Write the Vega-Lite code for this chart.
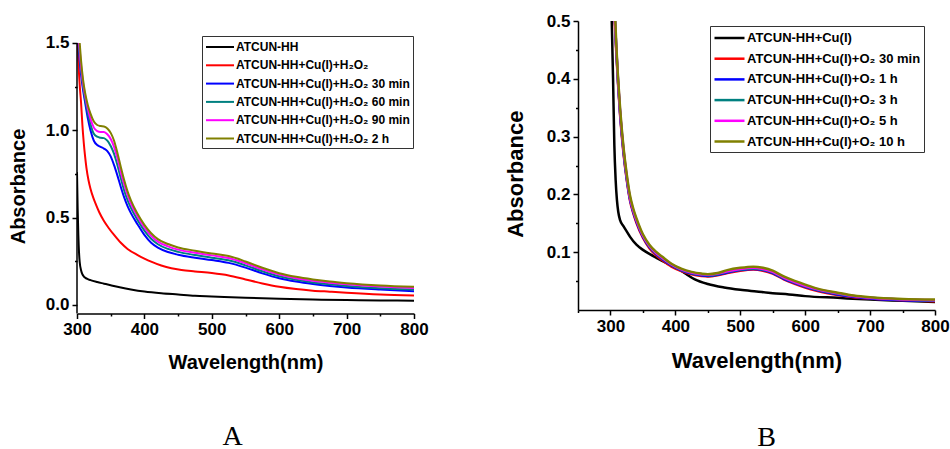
{
"$schema": "https://vega.github.io/schema/vega-lite/v6.json",
"background": "white",
"padding": {"left": 8, "top": 12, "right": 0, "bottom": 0},
"datasets": {
"a": [
{"s":"ATCUN-HH","w":300,"a":0.76},{"s":"ATCUN-HH","w":301,"a":0.55},{"s":"ATCUN-HH","w":302,"a":0.40},{"s":"ATCUN-HH","w":303,"a":0.30},{"s":"ATCUN-HH","w":304,"a":0.245},{"s":"ATCUN-HH","w":306,"a":0.198},{"s":"ATCUN-HH","w":308,"a":0.175},{"s":"ATCUN-HH","w":310,"a":0.163},{"s":"ATCUN-HH","w":313,"a":0.153},{"s":"ATCUN-HH","w":316,"a":0.147},{"s":"ATCUN-HH","w":320,"a":0.141},{"s":"ATCUN-HH","w":330,"a":0.130},{"s":"ATCUN-HH","w":340,"a":0.121},{"s":"ATCUN-HH","w":350,"a":0.112},{"s":"ATCUN-HH","w":365,"a":0.099},{"s":"ATCUN-HH","w":380,"a":0.088},{"s":"ATCUN-HH","w":400,"a":0.076},{"s":"ATCUN-HH","w":425,"a":0.066},{"s":"ATCUN-HH","w":450,"a":0.059},{"s":"ATCUN-HH","w":475,"a":0.052},{"s":"ATCUN-HH","w":500,"a":0.048},{"s":"ATCUN-HH","w":550,"a":0.040},{"s":"ATCUN-HH","w":600,"a":0.034},{"s":"ATCUN-HH","w":650,"a":0.030},{"s":"ATCUN-HH","w":700,"a":0.027},{"s":"ATCUN-HH","w":750,"a":0.025},{"s":"ATCUN-HH","w":800,"a":0.023},
{"s":"ATCUN-HH+Cu(I)+H\u2082O\u2082","w":301,"a":1.50},{"s":"ATCUN-HH+Cu(I)+H\u2082O\u2082","w":302,"a":1.40},{"s":"ATCUN-HH+Cu(I)+H\u2082O\u2082","w":304,"a":1.26},{"s":"ATCUN-HH+Cu(I)+H\u2082O\u2082","w":306,"a":1.16},{"s":"ATCUN-HH+Cu(I)+H\u2082O\u2082","w":308,"a":1.03},{"s":"ATCUN-HH+Cu(I)+H\u2082O\u2082","w":310,"a":0.93},{"s":"ATCUN-HH+Cu(I)+H\u2082O\u2082","w":312,"a":0.85},{"s":"ATCUN-HH+Cu(I)+H\u2082O\u2082","w":314,"a":0.785},{"s":"ATCUN-HH+Cu(I)+H\u2082O\u2082","w":317,"a":0.715},{"s":"ATCUN-HH+Cu(I)+H\u2082O\u2082","w":320,"a":0.665},{"s":"ATCUN-HH+Cu(I)+H\u2082O\u2082","w":324,"a":0.615},{"s":"ATCUN-HH+Cu(I)+H\u2082O\u2082","w":328,"a":0.575},{"s":"ATCUN-HH+Cu(I)+H\u2082O\u2082","w":333,"a":0.53},{"s":"ATCUN-HH+Cu(I)+H\u2082O\u2082","w":340,"a":0.48},{"s":"ATCUN-HH+Cu(I)+H\u2082O\u2082","w":347,"a":0.44},{"s":"ATCUN-HH+Cu(I)+H\u2082O\u2082","w":355,"a":0.40},{"s":"ATCUN-HH+Cu(I)+H\u2082O\u2082","w":365,"a":0.355},{"s":"ATCUN-HH+Cu(I)+H\u2082O\u2082","w":375,"a":0.32},{"s":"ATCUN-HH+Cu(I)+H\u2082O\u2082","w":390,"a":0.285},{"s":"ATCUN-HH+Cu(I)+H\u2082O\u2082","w":400,"a":0.265},{"s":"ATCUN-HH+Cu(I)+H\u2082O\u2082","w":410,"a":0.247},{"s":"ATCUN-HH+Cu(I)+H\u2082O\u2082","w":425,"a":0.225},{"s":"ATCUN-HH+Cu(I)+H\u2082O\u2082","w":440,"a":0.209},{"s":"ATCUN-HH+Cu(I)+H\u2082O\u2082","w":455,"a":0.199},{"s":"ATCUN-HH+Cu(I)+H\u2082O\u2082","w":475,"a":0.191},{"s":"ATCUN-HH+Cu(I)+H\u2082O\u2082","w":500,"a":0.182},{"s":"ATCUN-HH+Cu(I)+H\u2082O\u2082","w":525,"a":0.168},{"s":"ATCUN-HH+Cu(I)+H\u2082O\u2082","w":550,"a":0.145},{"s":"ATCUN-HH+Cu(I)+H\u2082O\u2082","w":575,"a":0.122},{"s":"ATCUN-HH+Cu(I)+H\u2082O\u2082","w":600,"a":0.103},{"s":"ATCUN-HH+Cu(I)+H\u2082O\u2082","w":625,"a":0.090},{"s":"ATCUN-HH+Cu(I)+H\u2082O\u2082","w":650,"a":0.081},{"s":"ATCUN-HH+Cu(I)+H\u2082O\u2082","w":675,"a":0.075},{"s":"ATCUN-HH+Cu(I)+H\u2082O\u2082","w":700,"a":0.069},{"s":"ATCUN-HH+Cu(I)+H\u2082O\u2082","w":750,"a":0.059},{"s":"ATCUN-HH+Cu(I)+H\u2082O\u2082","w":800,"a":0.053},
{"s":"ATCUN-HH+Cu(I)+H\u2082O\u2082 30 min","w":302,"a":1.50},{"s":"ATCUN-HH+Cu(I)+H\u2082O\u2082 30 min","w":304,"a":1.40},{"s":"ATCUN-HH+Cu(I)+H\u2082O\u2082 30 min","w":306,"a":1.32},{"s":"ATCUN-HH+Cu(I)+H\u2082O\u2082 30 min","w":309,"a":1.23},{"s":"ATCUN-HH+Cu(I)+H\u2082O\u2082 30 min","w":312,"a":1.16},{"s":"ATCUN-HH+Cu(I)+H\u2082O\u2082 30 min","w":316,"a":1.07},{"s":"ATCUN-HH+Cu(I)+H\u2082O\u2082 30 min","w":320,"a":1.00},{"s":"ATCUN-HH+Cu(I)+H\u2082O\u2082 30 min","w":325,"a":0.94},{"s":"ATCUN-HH+Cu(I)+H\u2082O\u2082 30 min","w":330,"a":0.915},{"s":"ATCUN-HH+Cu(I)+H\u2082O\u2082 30 min","w":335,"a":0.905},{"s":"ATCUN-HH+Cu(I)+H\u2082O\u2082 30 min","w":340,"a":0.895},{"s":"ATCUN-HH+Cu(I)+H\u2082O\u2082 30 min","w":345,"a":0.88},{"s":"ATCUN-HH+Cu(I)+H\u2082O\u2082 30 min","w":350,"a":0.85},{"s":"ATCUN-HH+Cu(I)+H\u2082O\u2082 30 min","w":355,"a":0.80},{"s":"ATCUN-HH+Cu(I)+H\u2082O\u2082 30 min","w":360,"a":0.74},{"s":"ATCUN-HH+Cu(I)+H\u2082O\u2082 30 min","w":365,"a":0.675},{"s":"ATCUN-HH+Cu(I)+H\u2082O\u2082 30 min","w":370,"a":0.615},{"s":"ATCUN-HH+Cu(I)+H\u2082O\u2082 30 min","w":375,"a":0.565},{"s":"ATCUN-HH+Cu(I)+H\u2082O\u2082 30 min","w":380,"a":0.525},{"s":"ATCUN-HH+Cu(I)+H\u2082O\u2082 30 min","w":390,"a":0.46},{"s":"ATCUN-HH+Cu(I)+H\u2082O\u2082 30 min","w":400,"a":0.40},{"s":"ATCUN-HH+Cu(I)+H\u2082O\u2082 30 min","w":410,"a":0.355},{"s":"ATCUN-HH+Cu(I)+H\u2082O\u2082 30 min","w":420,"a":0.327},{"s":"ATCUN-HH+Cu(I)+H\u2082O\u2082 30 min","w":435,"a":0.302},{"s":"ATCUN-HH+Cu(I)+H\u2082O\u2082 30 min","w":450,"a":0.287},{"s":"ATCUN-HH+Cu(I)+H\u2082O\u2082 30 min","w":475,"a":0.27},{"s":"ATCUN-HH+Cu(I)+H\u2082O\u2082 30 min","w":500,"a":0.256},{"s":"ATCUN-HH+Cu(I)+H\u2082O\u2082 30 min","w":525,"a":0.24},{"s":"ATCUN-HH+Cu(I)+H\u2082O\u2082 30 min","w":550,"a":0.213},{"s":"ATCUN-HH+Cu(I)+H\u2082O\u2082 30 min","w":575,"a":0.18},{"s":"ATCUN-HH+Cu(I)+H\u2082O\u2082 30 min","w":600,"a":0.152},{"s":"ATCUN-HH+Cu(I)+H\u2082O\u2082 30 min","w":625,"a":0.133},{"s":"ATCUN-HH+Cu(I)+H\u2082O\u2082 30 min","w":650,"a":0.119},{"s":"ATCUN-HH+Cu(I)+H\u2082O\u2082 30 min","w":675,"a":0.108},{"s":"ATCUN-HH+Cu(I)+H\u2082O\u2082 30 min","w":700,"a":0.099},{"s":"ATCUN-HH+Cu(I)+H\u2082O\u2082 30 min","w":750,"a":0.087},{"s":"ATCUN-HH+Cu(I)+H\u2082O\u2082 30 min","w":800,"a":0.078},
{"s":"ATCUN-HH+Cu(I)+H\u2082O\u2082 60 min","w":302.5,"a":1.50},{"s":"ATCUN-HH+Cu(I)+H\u2082O\u2082 60 min","w":304,"a":1.43},{"s":"ATCUN-HH+Cu(I)+H\u2082O\u2082 60 min","w":306,"a":1.35},{"s":"ATCUN-HH+Cu(I)+H\u2082O\u2082 60 min","w":309,"a":1.25},{"s":"ATCUN-HH+Cu(I)+H\u2082O\u2082 60 min","w":312,"a":1.18},{"s":"ATCUN-HH+Cu(I)+H\u2082O\u2082 60 min","w":316,"a":1.10},{"s":"ATCUN-HH+Cu(I)+H\u2082O\u2082 60 min","w":320,"a":1.035},{"s":"ATCUN-HH+Cu(I)+H\u2082O\u2082 60 min","w":325,"a":0.98},{"s":"ATCUN-HH+Cu(I)+H\u2082O\u2082 60 min","w":330,"a":0.963},{"s":"ATCUN-HH+Cu(I)+H\u2082O\u2082 60 min","w":335,"a":0.957},{"s":"ATCUN-HH+Cu(I)+H\u2082O\u2082 60 min","w":340,"a":0.955},{"s":"ATCUN-HH+Cu(I)+H\u2082O\u2082 60 min","w":345,"a":0.94},{"s":"ATCUN-HH+Cu(I)+H\u2082O\u2082 60 min","w":350,"a":0.91},{"s":"ATCUN-HH+Cu(I)+H\u2082O\u2082 60 min","w":355,"a":0.865},{"s":"ATCUN-HH+Cu(I)+H\u2082O\u2082 60 min","w":360,"a":0.80},{"s":"ATCUN-HH+Cu(I)+H\u2082O\u2082 60 min","w":365,"a":0.725},{"s":"ATCUN-HH+Cu(I)+H\u2082O\u2082 60 min","w":370,"a":0.655},{"s":"ATCUN-HH+Cu(I)+H\u2082O\u2082 60 min","w":375,"a":0.60},{"s":"ATCUN-HH+Cu(I)+H\u2082O\u2082 60 min","w":380,"a":0.555},{"s":"ATCUN-HH+Cu(I)+H\u2082O\u2082 60 min","w":390,"a":0.485},{"s":"ATCUN-HH+Cu(I)+H\u2082O\u2082 60 min","w":400,"a":0.425},{"s":"ATCUN-HH+Cu(I)+H\u2082O\u2082 60 min","w":410,"a":0.378},{"s":"ATCUN-HH+Cu(I)+H\u2082O\u2082 60 min","w":420,"a":0.347},{"s":"ATCUN-HH+Cu(I)+H\u2082O\u2082 60 min","w":435,"a":0.32},{"s":"ATCUN-HH+Cu(I)+H\u2082O\u2082 60 min","w":450,"a":0.303},{"s":"ATCUN-HH+Cu(I)+H\u2082O\u2082 60 min","w":475,"a":0.285},{"s":"ATCUN-HH+Cu(I)+H\u2082O\u2082 60 min","w":500,"a":0.27},{"s":"ATCUN-HH+Cu(I)+H\u2082O\u2082 60 min","w":525,"a":0.255},{"s":"ATCUN-HH+Cu(I)+H\u2082O\u2082 60 min","w":550,"a":0.226},{"s":"ATCUN-HH+Cu(I)+H\u2082O\u2082 60 min","w":575,"a":0.192},{"s":"ATCUN-HH+Cu(I)+H\u2082O\u2082 60 min","w":600,"a":0.163},{"s":"ATCUN-HH+Cu(I)+H\u2082O\u2082 60 min","w":625,"a":0.143},{"s":"ATCUN-HH+Cu(I)+H\u2082O\u2082 60 min","w":650,"a":0.128},{"s":"ATCUN-HH+Cu(I)+H\u2082O\u2082 60 min","w":675,"a":0.117},{"s":"ATCUN-HH+Cu(I)+H\u2082O\u2082 60 min","w":700,"a":0.108},{"s":"ATCUN-HH+Cu(I)+H\u2082O\u2082 60 min","w":750,"a":0.095},{"s":"ATCUN-HH+Cu(I)+H\u2082O\u2082 60 min","w":800,"a":0.087},
{"s":"ATCUN-HH+Cu(I)+H\u2082O\u2082 90 min","w":303,"a":1.50},{"s":"ATCUN-HH+Cu(I)+H\u2082O\u2082 90 min","w":304,"a":1.46},{"s":"ATCUN-HH+Cu(I)+H\u2082O\u2082 90 min","w":306,"a":1.37},{"s":"ATCUN-HH+Cu(I)+H\u2082O\u2082 90 min","w":309,"a":1.27},{"s":"ATCUN-HH+Cu(I)+H\u2082O\u2082 90 min","w":312,"a":1.20},{"s":"ATCUN-HH+Cu(I)+H\u2082O\u2082 90 min","w":316,"a":1.125},{"s":"ATCUN-HH+Cu(I)+H\u2082O\u2082 90 min","w":320,"a":1.065},{"s":"ATCUN-HH+Cu(I)+H\u2082O\u2082 90 min","w":325,"a":1.015},{"s":"ATCUN-HH+Cu(I)+H\u2082O\u2082 90 min","w":330,"a":0.995},{"s":"ATCUN-HH+Cu(I)+H\u2082O\u2082 90 min","w":335,"a":0.99},{"s":"ATCUN-HH+Cu(I)+H\u2082O\u2082 90 min","w":340,"a":0.99},{"s":"ATCUN-HH+Cu(I)+H\u2082O\u2082 90 min","w":345,"a":0.977},{"s":"ATCUN-HH+Cu(I)+H\u2082O\u2082 90 min","w":350,"a":0.95},{"s":"ATCUN-HH+Cu(I)+H\u2082O\u2082 90 min","w":355,"a":0.905},{"s":"ATCUN-HH+Cu(I)+H\u2082O\u2082 90 min","w":360,"a":0.84},{"s":"ATCUN-HH+Cu(I)+H\u2082O\u2082 90 min","w":365,"a":0.76},{"s":"ATCUN-HH+Cu(I)+H\u2082O\u2082 90 min","w":370,"a":0.69},{"s":"ATCUN-HH+Cu(I)+H\u2082O\u2082 90 min","w":375,"a":0.63},{"s":"ATCUN-HH+Cu(I)+H\u2082O\u2082 90 min","w":380,"a":0.58},{"s":"ATCUN-HH+Cu(I)+H\u2082O\u2082 90 min","w":390,"a":0.505},{"s":"ATCUN-HH+Cu(I)+H\u2082O\u2082 90 min","w":400,"a":0.443},{"s":"ATCUN-HH+Cu(I)+H\u2082O\u2082 90 min","w":410,"a":0.395},{"s":"ATCUN-HH+Cu(I)+H\u2082O\u2082 90 min","w":420,"a":0.362},{"s":"ATCUN-HH+Cu(I)+H\u2082O\u2082 90 min","w":435,"a":0.335},{"s":"ATCUN-HH+Cu(I)+H\u2082O\u2082 90 min","w":450,"a":0.316},{"s":"ATCUN-HH+Cu(I)+H\u2082O\u2082 90 min","w":475,"a":0.298},{"s":"ATCUN-HH+Cu(I)+H\u2082O\u2082 90 min","w":500,"a":0.283},{"s":"ATCUN-HH+Cu(I)+H\u2082O\u2082 90 min","w":525,"a":0.268},{"s":"ATCUN-HH+Cu(I)+H\u2082O\u2082 90 min","w":550,"a":0.238},{"s":"ATCUN-HH+Cu(I)+H\u2082O\u2082 90 min","w":575,"a":0.203},{"s":"ATCUN-HH+Cu(I)+H\u2082O\u2082 90 min","w":600,"a":0.173},{"s":"ATCUN-HH+Cu(I)+H\u2082O\u2082 90 min","w":625,"a":0.152},{"s":"ATCUN-HH+Cu(I)+H\u2082O\u2082 90 min","w":650,"a":0.137},{"s":"ATCUN-HH+Cu(I)+H\u2082O\u2082 90 min","w":675,"a":0.126},{"s":"ATCUN-HH+Cu(I)+H\u2082O\u2082 90 min","w":700,"a":0.117},{"s":"ATCUN-HH+Cu(I)+H\u2082O\u2082 90 min","w":750,"a":0.104},{"s":"ATCUN-HH+Cu(I)+H\u2082O\u2082 90 min","w":800,"a":0.096},
{"s":"ATCUN-HH+Cu(I)+H\u2082O\u2082 2 h","w":304,"a":1.50},{"s":"ATCUN-HH+Cu(I)+H\u2082O\u2082 2 h","w":306,"a":1.40},{"s":"ATCUN-HH+Cu(I)+H\u2082O\u2082 2 h","w":309,"a":1.29},{"s":"ATCUN-HH+Cu(I)+H\u2082O\u2082 2 h","w":312,"a":1.215},{"s":"ATCUN-HH+Cu(I)+H\u2082O\u2082 2 h","w":316,"a":1.145},{"s":"ATCUN-HH+Cu(I)+H\u2082O\u2082 2 h","w":320,"a":1.095},{"s":"ATCUN-HH+Cu(I)+H\u2082O\u2082 2 h","w":325,"a":1.05},{"s":"ATCUN-HH+Cu(I)+H\u2082O\u2082 2 h","w":330,"a":1.03},{"s":"ATCUN-HH+Cu(I)+H\u2082O\u2082 2 h","w":335,"a":1.024},{"s":"ATCUN-HH+Cu(I)+H\u2082O\u2082 2 h","w":340,"a":1.022},{"s":"ATCUN-HH+Cu(I)+H\u2082O\u2082 2 h","w":345,"a":1.01},{"s":"ATCUN-HH+Cu(I)+H\u2082O\u2082 2 h","w":350,"a":0.985},{"s":"ATCUN-HH+Cu(I)+H\u2082O\u2082 2 h","w":355,"a":0.94},{"s":"ATCUN-HH+Cu(I)+H\u2082O\u2082 2 h","w":360,"a":0.87},{"s":"ATCUN-HH+Cu(I)+H\u2082O\u2082 2 h","w":365,"a":0.79},{"s":"ATCUN-HH+Cu(I)+H\u2082O\u2082 2 h","w":370,"a":0.715},{"s":"ATCUN-HH+Cu(I)+H\u2082O\u2082 2 h","w":375,"a":0.65},{"s":"ATCUN-HH+Cu(I)+H\u2082O\u2082 2 h","w":380,"a":0.598},{"s":"ATCUN-HH+Cu(I)+H\u2082O\u2082 2 h","w":390,"a":0.52},{"s":"ATCUN-HH+Cu(I)+H\u2082O\u2082 2 h","w":400,"a":0.458},{"s":"ATCUN-HH+Cu(I)+H\u2082O\u2082 2 h","w":410,"a":0.41},{"s":"ATCUN-HH+Cu(I)+H\u2082O\u2082 2 h","w":420,"a":0.376},{"s":"ATCUN-HH+Cu(I)+H\u2082O\u2082 2 h","w":435,"a":0.348},{"s":"ATCUN-HH+Cu(I)+H\u2082O\u2082 2 h","w":450,"a":0.328},{"s":"ATCUN-HH+Cu(I)+H\u2082O\u2082 2 h","w":475,"a":0.31},{"s":"ATCUN-HH+Cu(I)+H\u2082O\u2082 2 h","w":500,"a":0.294},{"s":"ATCUN-HH+Cu(I)+H\u2082O\u2082 2 h","w":525,"a":0.279},{"s":"ATCUN-HH+Cu(I)+H\u2082O\u2082 2 h","w":550,"a":0.248},{"s":"ATCUN-HH+Cu(I)+H\u2082O\u2082 2 h","w":575,"a":0.212},{"s":"ATCUN-HH+Cu(I)+H\u2082O\u2082 2 h","w":600,"a":0.181},{"s":"ATCUN-HH+Cu(I)+H\u2082O\u2082 2 h","w":625,"a":0.16},{"s":"ATCUN-HH+Cu(I)+H\u2082O\u2082 2 h","w":650,"a":0.145},{"s":"ATCUN-HH+Cu(I)+H\u2082O\u2082 2 h","w":675,"a":0.133},{"s":"ATCUN-HH+Cu(I)+H\u2082O\u2082 2 h","w":700,"a":0.124},{"s":"ATCUN-HH+Cu(I)+H\u2082O\u2082 2 h","w":750,"a":0.111},{"s":"ATCUN-HH+Cu(I)+H\u2082O\u2082 2 h","w":800,"a":0.103}
],
"b": [
{"s":"ATCUN-HH+Cu(I)","w":302,"a":0.50},{"s":"ATCUN-HH+Cu(I)","w":304,"a":0.40},{"s":"ATCUN-HH+Cu(I)","w":306,"a":0.285},{"s":"ATCUN-HH+Cu(I)","w":308,"a":0.225},{"s":"ATCUN-HH+Cu(I)","w":310,"a":0.19},{"s":"ATCUN-HH+Cu(I)","w":312,"a":0.17},{"s":"ATCUN-HH+Cu(I)","w":315,"a":0.155},{"s":"ATCUN-HH+Cu(I)","w":320,"a":0.145},{"s":"ATCUN-HH+Cu(I)","w":325,"a":0.136},{"s":"ATCUN-HH+Cu(I)","w":330,"a":0.127},{"s":"ATCUN-HH+Cu(I)","w":340,"a":0.113},{"s":"ATCUN-HH+Cu(I)","w":350,"a":0.104},{"s":"ATCUN-HH+Cu(I)","w":360,"a":0.097},{"s":"ATCUN-HH+Cu(I)","w":373,"a":0.089},{"s":"ATCUN-HH+Cu(I)","w":385,"a":0.082},{"s":"ATCUN-HH+Cu(I)","w":400,"a":0.074},{"s":"ATCUN-HH+Cu(I)","w":414,"a":0.064},{"s":"ATCUN-HH+Cu(I)","w":430,"a":0.053},{"s":"ATCUN-HH+Cu(I)","w":450,"a":0.045},{"s":"ATCUN-HH+Cu(I)","w":475,"a":0.039},{"s":"ATCUN-HH+Cu(I)","w":500,"a":0.035},{"s":"ATCUN-HH+Cu(I)","w":525,"a":0.032},{"s":"ATCUN-HH+Cu(I)","w":550,"a":0.029},{"s":"ATCUN-HH+Cu(I)","w":575,"a":0.027},{"s":"ATCUN-HH+Cu(I)","w":600,"a":0.024},{"s":"ATCUN-HH+Cu(I)","w":650,"a":0.021},{"s":"ATCUN-HH+Cu(I)","w":700,"a":0.018},{"s":"ATCUN-HH+Cu(I)","w":750,"a":0.016},{"s":"ATCUN-HH+Cu(I)","w":800,"a":0.014},
{"s":"ATCUN-HH+Cu(I)+O\u2082 30 min","w":306.5,"a":0.50},{"s":"ATCUN-HH+Cu(I)+O\u2082 30 min","w":309,"a":0.445},{"s":"ATCUN-HH+Cu(I)+O\u2082 30 min","w":312,"a":0.385},{"s":"ATCUN-HH+Cu(I)+O\u2082 30 min","w":315,"a":0.335},{"s":"ATCUN-HH+Cu(I)+O\u2082 30 min","w":320,"a":0.272},{"s":"ATCUN-HH+Cu(I)+O\u2082 30 min","w":325,"a":0.226},{"s":"ATCUN-HH+Cu(I)+O\u2082 30 min","w":330,"a":0.19},{"s":"ATCUN-HH+Cu(I)+O\u2082 30 min","w":335,"a":0.168},{"s":"ATCUN-HH+Cu(I)+O\u2082 30 min","w":340,"a":0.151},{"s":"ATCUN-HH+Cu(I)+O\u2082 30 min","w":350,"a":0.125},{"s":"ATCUN-HH+Cu(I)+O\u2082 30 min","w":360,"a":0.107},{"s":"ATCUN-HH+Cu(I)+O\u2082 30 min","w":370,"a":0.095},{"s":"ATCUN-HH+Cu(I)+O\u2082 30 min","w":380,"a":0.086},{"s":"ATCUN-HH+Cu(I)+O\u2082 30 min","w":394,"a":0.075},{"s":"ATCUN-HH+Cu(I)+O\u2082 30 min","w":410,"a":0.067},{"s":"ATCUN-HH+Cu(I)+O\u2082 30 min","w":425,"a":0.062},{"s":"ATCUN-HH+Cu(I)+O\u2082 30 min","w":440,"a":0.059},{"s":"ATCUN-HH+Cu(I)+O\u2082 30 min","w":450,"a":0.058},{"s":"ATCUN-HH+Cu(I)+O\u2082 30 min","w":465,"a":0.060},{"s":"ATCUN-HH+Cu(I)+O\u2082 30 min","w":480,"a":0.064},{"s":"ATCUN-HH+Cu(I)+O\u2082 30 min","w":500,"a":0.068},{"s":"ATCUN-HH+Cu(I)+O\u2082 30 min","w":520,"a":0.070},{"s":"ATCUN-HH+Cu(I)+O\u2082 30 min","w":535,"a":0.068},{"s":"ATCUN-HH+Cu(I)+O\u2082 30 min","w":550,"a":0.063},{"s":"ATCUN-HH+Cu(I)+O\u2082 30 min","w":567,"a":0.053},{"s":"ATCUN-HH+Cu(I)+O\u2082 30 min","w":585,"a":0.045},{"s":"ATCUN-HH+Cu(I)+O\u2082 30 min","w":600,"a":0.039},{"s":"ATCUN-HH+Cu(I)+O\u2082 30 min","w":619,"a":0.033},{"s":"ATCUN-HH+Cu(I)+O\u2082 30 min","w":650,"a":0.026},{"s":"ATCUN-HH+Cu(I)+O\u2082 30 min","w":675,"a":0.022},{"s":"ATCUN-HH+Cu(I)+O\u2082 30 min","w":700,"a":0.020},{"s":"ATCUN-HH+Cu(I)+O\u2082 30 min","w":750,"a":0.017},{"s":"ATCUN-HH+Cu(I)+O\u2082 30 min","w":800,"a":0.015},
{"s":"ATCUN-HH+Cu(I)+O\u2082 1 h","w":307,"a":0.50},{"s":"ATCUN-HH+Cu(I)+O\u2082 1 h","w":309,"a":0.45},{"s":"ATCUN-HH+Cu(I)+O\u2082 1 h","w":312,"a":0.388},{"s":"ATCUN-HH+Cu(I)+O\u2082 1 h","w":315,"a":0.338},{"s":"ATCUN-HH+Cu(I)+O\u2082 1 h","w":320,"a":0.275},{"s":"ATCUN-HH+Cu(I)+O\u2082 1 h","w":325,"a":0.228},{"s":"ATCUN-HH+Cu(I)+O\u2082 1 h","w":330,"a":0.192},{"s":"ATCUN-HH+Cu(I)+O\u2082 1 h","w":335,"a":0.17},{"s":"ATCUN-HH+Cu(I)+O\u2082 1 h","w":340,"a":0.153},{"s":"ATCUN-HH+Cu(I)+O\u2082 1 h","w":350,"a":0.127},{"s":"ATCUN-HH+Cu(I)+O\u2082 1 h","w":360,"a":0.109},{"s":"ATCUN-HH+Cu(I)+O\u2082 1 h","w":370,"a":0.097},{"s":"ATCUN-HH+Cu(I)+O\u2082 1 h","w":380,"a":0.088},{"s":"ATCUN-HH+Cu(I)+O\u2082 1 h","w":394,"a":0.077},{"s":"ATCUN-HH+Cu(I)+O\u2082 1 h","w":410,"a":0.068},{"s":"ATCUN-HH+Cu(I)+O\u2082 1 h","w":425,"a":0.063},{"s":"ATCUN-HH+Cu(I)+O\u2082 1 h","w":440,"a":0.060},{"s":"ATCUN-HH+Cu(I)+O\u2082 1 h","w":450,"a":0.059},{"s":"ATCUN-HH+Cu(I)+O\u2082 1 h","w":465,"a":0.061},{"s":"ATCUN-HH+Cu(I)+O\u2082 1 h","w":480,"a":0.065},{"s":"ATCUN-HH+Cu(I)+O\u2082 1 h","w":500,"a":0.069},{"s":"ATCUN-HH+Cu(I)+O\u2082 1 h","w":520,"a":0.071},{"s":"ATCUN-HH+Cu(I)+O\u2082 1 h","w":535,"a":0.069},{"s":"ATCUN-HH+Cu(I)+O\u2082 1 h","w":550,"a":0.064},{"s":"ATCUN-HH+Cu(I)+O\u2082 1 h","w":567,"a":0.054},{"s":"ATCUN-HH+Cu(I)+O\u2082 1 h","w":585,"a":0.046},{"s":"ATCUN-HH+Cu(I)+O\u2082 1 h","w":600,"a":0.040},{"s":"ATCUN-HH+Cu(I)+O\u2082 1 h","w":619,"a":0.034},{"s":"ATCUN-HH+Cu(I)+O\u2082 1 h","w":650,"a":0.027},{"s":"ATCUN-HH+Cu(I)+O\u2082 1 h","w":675,"a":0.023},{"s":"ATCUN-HH+Cu(I)+O\u2082 1 h","w":700,"a":0.020},{"s":"ATCUN-HH+Cu(I)+O\u2082 1 h","w":750,"a":0.017},{"s":"ATCUN-HH+Cu(I)+O\u2082 1 h","w":800,"a":0.016},
{"s":"ATCUN-HH+Cu(I)+O\u2082 3 h","w":307,"a":0.50},{"s":"ATCUN-HH+Cu(I)+O\u2082 3 h","w":309,"a":0.452},{"s":"ATCUN-HH+Cu(I)+O\u2082 3 h","w":312,"a":0.39},{"s":"ATCUN-HH+Cu(I)+O\u2082 3 h","w":315,"a":0.34},{"s":"ATCUN-HH+Cu(I)+O\u2082 3 h","w":320,"a":0.277},{"s":"ATCUN-HH+Cu(I)+O\u2082 3 h","w":325,"a":0.23},{"s":"ATCUN-HH+Cu(I)+O\u2082 3 h","w":330,"a":0.194},{"s":"ATCUN-HH+Cu(I)+O\u2082 3 h","w":335,"a":0.172},{"s":"ATCUN-HH+Cu(I)+O\u2082 3 h","w":340,"a":0.155},{"s":"ATCUN-HH+Cu(I)+O\u2082 3 h","w":350,"a":0.128},{"s":"ATCUN-HH+Cu(I)+O\u2082 3 h","w":360,"a":0.11},{"s":"ATCUN-HH+Cu(I)+O\u2082 3 h","w":370,"a":0.098},{"s":"ATCUN-HH+Cu(I)+O\u2082 3 h","w":380,"a":0.089},{"s":"ATCUN-HH+Cu(I)+O\u2082 3 h","w":394,"a":0.078},{"s":"ATCUN-HH+Cu(I)+O\u2082 3 h","w":410,"a":0.069},{"s":"ATCUN-HH+Cu(I)+O\u2082 3 h","w":425,"a":0.064},{"s":"ATCUN-HH+Cu(I)+O\u2082 3 h","w":440,"a":0.061},{"s":"ATCUN-HH+Cu(I)+O\u2082 3 h","w":450,"a":0.060},{"s":"ATCUN-HH+Cu(I)+O\u2082 3 h","w":465,"a":0.062},{"s":"ATCUN-HH+Cu(I)+O\u2082 3 h","w":480,"a":0.066},{"s":"ATCUN-HH+Cu(I)+O\u2082 3 h","w":500,"a":0.070},{"s":"ATCUN-HH+Cu(I)+O\u2082 3 h","w":520,"a":0.072},{"s":"ATCUN-HH+Cu(I)+O\u2082 3 h","w":535,"a":0.070},{"s":"ATCUN-HH+Cu(I)+O\u2082 3 h","w":550,"a":0.065},{"s":"ATCUN-HH+Cu(I)+O\u2082 3 h","w":567,"a":0.055},{"s":"ATCUN-HH+Cu(I)+O\u2082 3 h","w":585,"a":0.047},{"s":"ATCUN-HH+Cu(I)+O\u2082 3 h","w":600,"a":0.041},{"s":"ATCUN-HH+Cu(I)+O\u2082 3 h","w":619,"a":0.035},{"s":"ATCUN-HH+Cu(I)+O\u2082 3 h","w":650,"a":0.028},{"s":"ATCUN-HH+Cu(I)+O\u2082 3 h","w":675,"a":0.024},{"s":"ATCUN-HH+Cu(I)+O\u2082 3 h","w":700,"a":0.021},{"s":"ATCUN-HH+Cu(I)+O\u2082 3 h","w":750,"a":0.018},{"s":"ATCUN-HH+Cu(I)+O\u2082 3 h","w":800,"a":0.016},
{"s":"ATCUN-HH+Cu(I)+O\u2082 5 h","w":307,"a":0.50},{"s":"ATCUN-HH+Cu(I)+O\u2082 5 h","w":309,"a":0.453},{"s":"ATCUN-HH+Cu(I)+O\u2082 5 h","w":312,"a":0.392},{"s":"ATCUN-HH+Cu(I)+O\u2082 5 h","w":315,"a":0.342},{"s":"ATCUN-HH+Cu(I)+O\u2082 5 h","w":320,"a":0.279},{"s":"ATCUN-HH+Cu(I)+O\u2082 5 h","w":325,"a":0.232},{"s":"ATCUN-HH+Cu(I)+O\u2082 5 h","w":330,"a":0.195},{"s":"ATCUN-HH+Cu(I)+O\u2082 5 h","w":335,"a":0.173},{"s":"ATCUN-HH+Cu(I)+O\u2082 5 h","w":340,"a":0.156},{"s":"ATCUN-HH+Cu(I)+O\u2082 5 h","w":350,"a":0.129},{"s":"ATCUN-HH+Cu(I)+O\u2082 5 h","w":360,"a":0.111},{"s":"ATCUN-HH+Cu(I)+O\u2082 5 h","w":370,"a":0.099},{"s":"ATCUN-HH+Cu(I)+O\u2082 5 h","w":380,"a":0.09},{"s":"ATCUN-HH+Cu(I)+O\u2082 5 h","w":394,"a":0.079},{"s":"ATCUN-HH+Cu(I)+O\u2082 5 h","w":410,"a":0.070},{"s":"ATCUN-HH+Cu(I)+O\u2082 5 h","w":425,"a":0.065},{"s":"ATCUN-HH+Cu(I)+O\u2082 5 h","w":440,"a":0.062},{"s":"ATCUN-HH+Cu(I)+O\u2082 5 h","w":450,"a":0.061},{"s":"ATCUN-HH+Cu(I)+O\u2082 5 h","w":465,"a":0.063},{"s":"ATCUN-HH+Cu(I)+O\u2082 5 h","w":480,"a":0.067},{"s":"ATCUN-HH+Cu(I)+O\u2082 5 h","w":500,"a":0.071},{"s":"ATCUN-HH+Cu(I)+O\u2082 5 h","w":520,"a":0.073},{"s":"ATCUN-HH+Cu(I)+O\u2082 5 h","w":535,"a":0.071},{"s":"ATCUN-HH+Cu(I)+O\u2082 5 h","w":550,"a":0.066},{"s":"ATCUN-HH+Cu(I)+O\u2082 5 h","w":567,"a":0.056},{"s":"ATCUN-HH+Cu(I)+O\u2082 5 h","w":585,"a":0.048},{"s":"ATCUN-HH+Cu(I)+O\u2082 5 h","w":600,"a":0.042},{"s":"ATCUN-HH+Cu(I)+O\u2082 5 h","w":619,"a":0.036},{"s":"ATCUN-HH+Cu(I)+O\u2082 5 h","w":650,"a":0.029},{"s":"ATCUN-HH+Cu(I)+O\u2082 5 h","w":675,"a":0.024},{"s":"ATCUN-HH+Cu(I)+O\u2082 5 h","w":700,"a":0.021},{"s":"ATCUN-HH+Cu(I)+O\u2082 5 h","w":750,"a":0.018},{"s":"ATCUN-HH+Cu(I)+O\u2082 5 h","w":800,"a":0.017},
{"s":"ATCUN-HH+Cu(I)+O\u2082 10 h","w":307.5,"a":0.50},{"s":"ATCUN-HH+Cu(I)+O\u2082 10 h","w":309,"a":0.46},{"s":"ATCUN-HH+Cu(I)+O\u2082 10 h","w":312,"a":0.397},{"s":"ATCUN-HH+Cu(I)+O\u2082 10 h","w":315,"a":0.347},{"s":"ATCUN-HH+Cu(I)+O\u2082 10 h","w":320,"a":0.283},{"s":"ATCUN-HH+Cu(I)+O\u2082 10 h","w":325,"a":0.236},{"s":"ATCUN-HH+Cu(I)+O\u2082 10 h","w":330,"a":0.199},{"s":"ATCUN-HH+Cu(I)+O\u2082 10 h","w":335,"a":0.176},{"s":"ATCUN-HH+Cu(I)+O\u2082 10 h","w":340,"a":0.159},{"s":"ATCUN-HH+Cu(I)+O\u2082 10 h","w":350,"a":0.131},{"s":"ATCUN-HH+Cu(I)+O\u2082 10 h","w":360,"a":0.113},{"s":"ATCUN-HH+Cu(I)+O\u2082 10 h","w":370,"a":0.101},{"s":"ATCUN-HH+Cu(I)+O\u2082 10 h","w":380,"a":0.092},{"s":"ATCUN-HH+Cu(I)+O\u2082 10 h","w":394,"a":0.08},{"s":"ATCUN-HH+Cu(I)+O\u2082 10 h","w":410,"a":0.071},{"s":"ATCUN-HH+Cu(I)+O\u2082 10 h","w":425,"a":0.066},{"s":"ATCUN-HH+Cu(I)+O\u2082 10 h","w":440,"a":0.063},{"s":"ATCUN-HH+Cu(I)+O\u2082 10 h","w":450,"a":0.062},{"s":"ATCUN-HH+Cu(I)+O\u2082 10 h","w":465,"a":0.064},{"s":"ATCUN-HH+Cu(I)+O\u2082 10 h","w":480,"a":0.069},{"s":"ATCUN-HH+Cu(I)+O\u2082 10 h","w":500,"a":0.073},{"s":"ATCUN-HH+Cu(I)+O\u2082 10 h","w":520,"a":0.075},{"s":"ATCUN-HH+Cu(I)+O\u2082 10 h","w":535,"a":0.073},{"s":"ATCUN-HH+Cu(I)+O\u2082 10 h","w":550,"a":0.068},{"s":"ATCUN-HH+Cu(I)+O\u2082 10 h","w":567,"a":0.058},{"s":"ATCUN-HH+Cu(I)+O\u2082 10 h","w":585,"a":0.05},{"s":"ATCUN-HH+Cu(I)+O\u2082 10 h","w":600,"a":0.044},{"s":"ATCUN-HH+Cu(I)+O\u2082 10 h","w":619,"a":0.037},{"s":"ATCUN-HH+Cu(I)+O\u2082 10 h","w":650,"a":0.03},{"s":"ATCUN-HH+Cu(I)+O\u2082 10 h","w":675,"a":0.025},{"s":"ATCUN-HH+Cu(I)+O\u2082 10 h","w":700,"a":0.022},{"s":"ATCUN-HH+Cu(I)+O\u2082 10 h","w":750,"a":0.019},{"s":"ATCUN-HH+Cu(I)+O\u2082 10 h","w":800,"a":0.018}
]
},
"hconcat": [
{
"width": 337, "height": 292.5,
"title": {"text": "A", "orient": "bottom", "frame": "group", "font": "Liberation Serif", "fontSize": 28, "fontWeight": "normal", "color": "black", "offset": 50, "dx": -13},
"layer": [
{
"data": {"name": "a"},
"mark": {"type": "line", "strokeWidth": 2, "interpolate": "monotone", "clip": true},
"encoding": {
"x": {"field": "w", "type": "quantitative", "scale": {"domain": [300, 800], "nice": false, "zero": false},
 "axis": {"orient": "bottom", "values": [300, 400, 500, 600, 700, 800], "title": "Wavelength(nm)", "titleFontSize": 20, "titlePadding": 15}},
"y": {"field": "a", "type": "quantitative", "scale": {"domain": [-0.05, 1.626], "nice": false, "zero": false},
 "axis": {"orient": "left", "values": [0, 0.5, 1, 1.5], "format": ".1f", "domain": false, "title": "Absorbance", "titleFontSize": 20, "titlePadding": 16.5, "titleY": 165}},
"color": {"field": "s", "type": "nominal",
 "scale": {"domain": ["ATCUN-HH", "ATCUN-HH+Cu(I)+H\u2082O\u2082", "ATCUN-HH+Cu(I)+H\u2082O\u2082 30 min", "ATCUN-HH+Cu(I)+H\u2082O\u2082 60 min", "ATCUN-HH+Cu(I)+H\u2082O\u2082 90 min", "ATCUN-HH+Cu(I)+H\u2082O\u2082 2 h"],
   "range": ["#000000", "#ff0000", "#0000ff", "#008080", "#ff00ff", "#808000"]},
 "legend": {"orient": "none", "legendX": 125, "legendY": 15, "title": null, "symbolType": "M-2,0H2", "symbolSize": 196, "symbolStrokeWidth": 2, "symbolOffset": 7, "labelOffset": 8, "labelFontSize": 12, "rowPadding": 4.3, "columnPadding": 0, "padding": 3, "strokeColor": "#333333", "fillColor": "white"}}
}
},
{
"data": {"values": [{"w": 300, "a": 0}]},
"mark": {"type": "point", "opacity": 0},
"encoding": {
"x": {"field": "w", "type": "quantitative", "axis": {"orient": "bottom", "values": [350, 450, 550, 650, 750], "labels": false, "domain": false, "tickSize": 2.5, "title": null}},
"y": {"field": "a", "type": "quantitative", "axis": {"orient": "left", "values": [0.25, 0.75, 1.25], "labels": false, "domain": false, "tickSize": 2.5, "title": null}}
}
},
{
"data": {"values": [{}]},
"mark": {"type": "rule", "strokeWidth": 1.5, "color": "black"},
"encoding": {
"x": {"datum": 300, "type": "quantitative", "axis": null},
"y": {"datum": -0.05, "type": "quantitative", "axis": null},
"y2": {"datum": 1.5}
}
}
],
"resolve": {"axis": {"x": "independent", "y": "independent"}}
},
{
"width": 357, "height": 289,
"title": {"text": "B", "orient": "bottom", "frame": "group", "font": "Liberation Serif", "fontSize": 28, "fontWeight": "normal", "color": "black", "offset": 53, "dx": 10},
"layer": [
{
"data": {"name": "b"},
"mark": {"type": "line", "strokeWidth": 2.5, "interpolate": "monotone", "clip": true},
"encoding": {
"x": {"field": "w", "type": "quantitative", "scale": {"domain": [250, 800], "nice": false, "zero": false},
 "axis": {"orient": "bottom", "values": [300, 400, 500, 600, 700, 800], "title": "Wavelength(nm)", "titleFontSize": 22, "titlePadding": 16}},
"y": {"field": "a", "type": "quantitative", "scale": {"domain": [0, 0.5], "nice": false},
 "axis": {"orient": "left", "values": [0.1, 0.2, 0.3, 0.4, 0.5], "format": ".1f", "title": "Absorbance", "titleFontSize": 22, "titlePadding": 19, "titleY": 152.7}},
"color": {"field": "s", "type": "nominal",
 "scale": {"domain": ["ATCUN-HH+Cu(I)", "ATCUN-HH+Cu(I)+O\u2082 30 min", "ATCUN-HH+Cu(I)+O\u2082 1 h", "ATCUN-HH+Cu(I)+O\u2082 3 h", "ATCUN-HH+Cu(I)+O\u2082 5 h", "ATCUN-HH+Cu(I)+O\u2082 10 h"],
   "range": ["#000000", "#ff0000", "#0000ff", "#008080", "#ff00ff", "#808000"]},
 "legend": {"orient": "none", "legendX": 132, "legendY": 5, "title": null, "symbolType": "M-2,0H2", "symbolSize": 225, "symbolStrokeWidth": 2.5, "symbolOffset": 7.5, "labelOffset": 8.5, "labelFontSize": 13, "rowPadding": 4.7, "columnPadding": 0, "padding": 3, "strokeColor": "#333333", "fillColor": "white"}}
}
},
{
"data": {"values": [{"w": 300, "a": 0}]},
"mark": {"type": "point", "opacity": 0},
"encoding": {
"x": {"field": "w", "type": "quantitative", "axis": {"orient": "bottom", "values": [250, 350, 450, 550, 650, 750], "labels": false, "domain": false, "tickSize": 2.5, "title": null}},
"y": {"field": "a", "type": "quantitative", "axis": {"orient": "left", "values": [0.05, 0.15, 0.25, 0.35, 0.45], "labels": false, "domain": false, "tickSize": 2.5, "title": null}}
}
}
],
"resolve": {"axis": {"x": "independent", "y": "independent"}}
}
],
"spacing": 75,
"resolve": {"scale": {"color": "independent"}, "legend": {"color": "independent"}},
"config": {
"view": {"stroke": null},
"font": "Liberation Sans",
"axis": {"grid": false, "labelFlush": false, "domainColor": "black", "domainWidth": 1.5, "tickColor": "black", "tickWidth": 1.5, "tickSize": 5, "labelFont": "Liberation Sans", "labelFontWeight": "bold", "labelFontSize": 17, "labelColor": "black", "labelPadding": 3, "titleFont": "Liberation Sans", "titleFontWeight": "bold", "titleColor": "black"},
"legend": {"labelFont": "Liberation Sans", "labelFontWeight": "bold", "labelColor": "black", "labelLimit": 0, "strokeWidth": 1},
"title": {"color": "black"}
}
}
